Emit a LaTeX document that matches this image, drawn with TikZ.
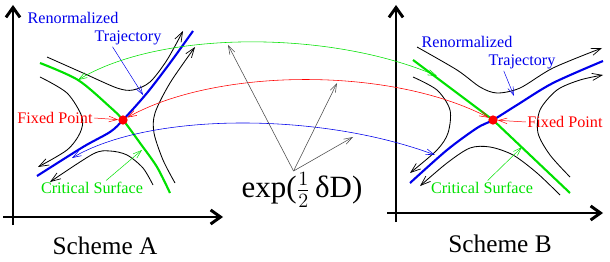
\documentclass[tikz,border=0pt]{standalone}
\usepackage{fontspec}
\setmainfont{Liberation Serif}
\usetikzlibrary{arrows.meta, positioning, calc}
\definecolor{flowgreen}{RGB}{0, 225, 0}
\definecolor{flowblue}{RGB}{0, 0, 235}
\definecolor{flowred}{RGB}{255, 0, 0}

\begin{document}
\begin{tikzpicture}[
    x=0.025cm, y=-0.025cm,
    axis/.style={line width=2.1pt, -{Straight Barb[length=7pt, width=10pt]}},
    flow/.style={line width=0.6pt, -{Straight Barb[length=7pt, width=5pt, line width=0.5pt]}},
    critline/.style={draw=flowgreen, line width=1.5pt},
    trajline/.style={draw=flowblue, line width=1.5pt},
    fp/.style={circle, fill=flowred, minimum size=6.6pt, inner sep=0pt},
    lbl/.style={font=\fontsize{11.5}{13}\selectfont, inner sep=1pt},
    lblarr/.style={line width=0.35pt, -{Straight Barb[length=6pt, width=4pt, line width=0.35pt]}},
    maparr/.style={line width=0.4pt, {Straight Barb[length=6pt, width=4pt, line width=0.4pt]}-{Straight Barb[length=6pt, width=4pt, line width=0.4pt]}},
    pull/.style={draw=black!70, line width=0.4pt, -{Straight Barb[length=6pt, width=4pt, line width=0.4pt]}},
    scheme/.style={font=\fontsize{18}{20}\selectfont}
]
\useasboundingbox (0,0) rectangle (610,262);

% =========== SCHEME A ===========
\draw[axis] (13,225) -- (13,5);
\draw[axis] (3,217) -- (223,217);

\draw[critline] plot[smooth] coordinates {(40,63) (78,80) (110,107) (123,120) (140,143) (157,167) (170,193)};
\draw[trajline] plot[smooth] coordinates {(37,176) (83,147) (110,132) (123,120) (147,93) (170,63) (193,31)};

\draw[flow] plot[smooth] coordinates {(47,57) (83,73) (117,88) (133,90) (150,82) (167,60) (183,31)};
\draw[flow] plot[smooth] coordinates {(40,77) (67,93) (82,117) (80,133) (67,150) (38,167)};
\draw[flow] plot[smooth] coordinates {(175,183) (163,160) (154,133) (155,113) (170,83) (195,47)};
\draw[flow] plot[smooth] coordinates {(153,185) (143,168) (127,155) (110,151) (93,154) (50,182)};

\node[fp] (fpA) at (123,120) {};
\coordinate (critA)  at (78,80);
\coordinate (trajA)  at (72,158);
\coordinate (critAl) at (142,150);
\coordinate (trajAl) at (143,95);

\node[lbl, text=flowblue]  (renA)  at (73,18)  {Renormalized};
\node[lbl, text=flowblue]  (trA)   at (128,38) {Trajectory};
\node[lbl, text=flowred]   (fixA)  at (55,118) {Fixed Point};
\node[lbl, text=flowgreen] (crA)   at (92,188) {Critical Surface};

\draw[lblarr, flowblue]  ([xshift=-11pt]trA.south) -- (trajAl);
\draw[lblarr, flowred]   (fixA.east) -- (fpA);
\draw[lblarr, flowgreen] ([xshift=10pt]crA.north) -- (critAl);

\node[scheme] (schA) at (105,246) {Scheme A};

% =========== SCHEME B ===========
\draw[axis] (396,222) -- (396,5);
\draw[axis] (387,213) -- (603,213);

\draw[critline] (413,60) -- (493,120) -- (570,193);
\draw[trajline] plot[smooth] coordinates {(410,183) (447,150) (477,128) (493,120) (517,105) (553,83) (603,61)};

\draw[flow] plot[smooth] coordinates {(417,47) (457,70) (480,87) (497,93) (520,88) (553,68) (602,48)};
\draw[flow] plot[smooth] coordinates {(413,77) (437,90) (450,110) (448,133) (437,150) (410,173)};
\draw[flow] plot[smooth] coordinates {(570,177) (550,155) (538,133) (540,110) (557,90) (580,80) (603,75)};
\draw[flow] plot[smooth] coordinates {(560,195) (537,173) (513,155) (490,147) (470,148) (447,163) (420,186)};

\node[fp] (fpB) at (493,120) {};
\coordinate (critB)  at (437,76);
\coordinate (trajB)  at (435,155);
\coordinate (critBl) at (522,147);
\coordinate (trajBl) at (514,96);

\node[lbl, text=flowblue]  (renB)  at (467,42)  {Renormalized};
\node[lbl, text=flowblue]  (trB)   at (522,62)  {Trajectory};
\node[lbl, text=flowred]   (fixB)  at (565,122) {Fixed Point};
\node[lbl, text=flowgreen] (crB)   at (482,188) {Critical Surface};

\draw[lblarr, flowblue]  ([xshift=-13pt]trB.south) -- (trajBl);
\draw[lblarr, flowred]   (fixB.west) -- (fpB);
\draw[lblarr, flowgreen] ([xshift=4pt]crB.north) -- (critBl);

\node[scheme] (schB) at (500,244) {Scheme B};

% =========== MAP BETWEEN SCHEMES ===========
\draw[maparr, flowgreen] (critA) .. controls (160,30) and (330,30) .. (critB);
\draw[maparr, flowred]   (fpA)   .. controls (215,68) and (390,66) .. (fpB);
\draw[maparr, flowblue]  (trajA) .. controls (150,112) and (320,112) .. (trajB);

\node[font=\fontsize{22}{24}\selectfont, inner sep=1pt] (expo) at (302,190)
    {exp(\(\frac{1}{2}\)\,δD)};
\coordinate (onG) at (228,45);
\coordinate (onR) at (337,83);
\coordinate (onB) at (353,137);
\draw[pull] ([xshift=-6pt]expo.north) -- (onG);
\draw[pull] ([xshift=-6pt]expo.north) -- (onR);
\draw[pull] ([xshift=-6pt]expo.north) -- (onB);

\end{tikzpicture}
\end{document}
